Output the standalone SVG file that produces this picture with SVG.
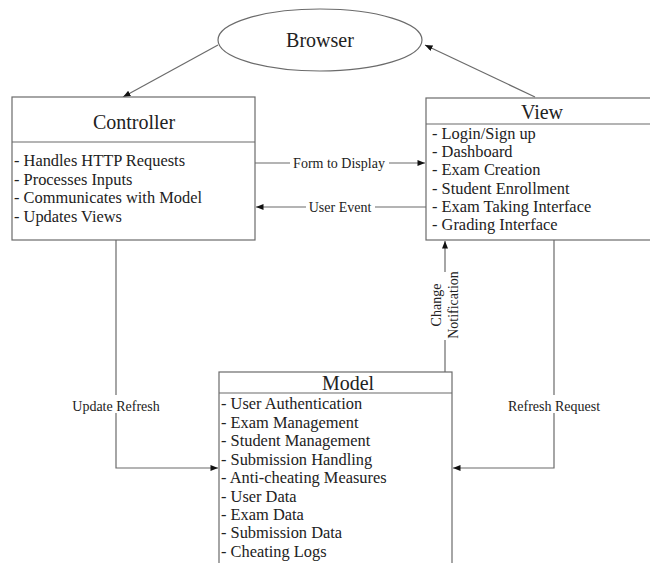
<svg xmlns="http://www.w3.org/2000/svg" width="650" height="563" viewBox="0 0 650 563">
<defs>
<style>
.box{fill:#fff;stroke:#6b6b6b;stroke-width:1.2}
.ln{fill:none;stroke:#6b6b6b;stroke-width:1.2}
.ttl{font-family:"Liberation Serif",serif;font-size:20px;fill:#222;text-anchor:middle}
.itm{font-family:"Liberation Serif",serif;font-size:16.4px;fill:#222}
.lbl{font-family:"Liberation Serif",serif;font-size:14px;fill:#222;text-anchor:middle}
.bg{fill:#fff}
</style>
<marker id="ah" viewBox="0 0 10 8" refX="10" refY="4" markerWidth="8" markerHeight="6" markerUnits="userSpaceOnUse" orient="auto">
<path d="M0,0 L10,4 L0,8 Z" fill="#111"/>
</marker>
</defs>
<rect width="650" height="563" fill="#fff"/>
<g id="connectors">
<path class="ln" d="M218,45 L123,97" marker-end="url(#ah)"/>
<path class="ln" d="M535,97 L425,45" marker-end="url(#ah)"/>
<path class="ln" d="M255,163 H425" marker-end="url(#ah)"/>
<path class="ln" d="M426,207 H256" marker-end="url(#ah)"/>
<path class="ln" d="M445,372 V241" marker-end="url(#ah)"/>
<path class="ln" d="M116,240 V468 H218" marker-end="url(#ah)"/>
<path class="ln" d="M554,240 V468 H453" marker-end="url(#ah)"/>
<rect class="bg" x="290" y="153" width="99" height="18"/>
<text class="lbl" x="339" y="168">Form to Display</text>
<rect class="bg" x="306" y="197" width="69" height="18"/>
<text class="lbl" x="340" y="212">User Event</text>
<rect class="bg" x="68" y="395" width="96" height="18"/>
<text class="lbl" x="116" y="411">Update Refresh</text>
<rect class="bg" x="504" y="395" width="100" height="18"/>
<text class="lbl" x="554" y="411">Refresh Request</text>
<rect class="bg" x="428" y="272" width="34" height="68"/>
<text class="lbl" transform="translate(441,305) rotate(-90)">Change</text>
<text class="lbl" transform="translate(458,305) rotate(-90)">Notification</text>
</g>
<g id="browser">
<ellipse class="box" cx="320" cy="40" rx="102" ry="31"/>
<text class="ttl" x="320" y="47">Browser</text>
</g>
<g id="controller">
<rect class="box" x="12" y="97" width="243" height="143"/>
<line class="ln" x1="12" y1="142" x2="255" y2="142"/>
<text class="ttl" x="134" y="129">Controller</text>
<text class="itm" x="14" y="166">- Handles HTTP Requests</text>
<text class="itm" x="14" y="185">- Processes Inputs</text>
<text class="itm" x="14" y="203">- Communicates with Model</text>
<text class="itm" x="14" y="222">- Updates Views</text>
</g>
<g id="view">
<rect class="box" x="426" y="98" width="240" height="142"/>
<line class="ln" x1="426" y1="124" x2="666" y2="124"/>
<text class="ttl" x="542" y="119">View</text>
<text class="itm" x="432" y="139">- Login/Sign up</text>
<text class="itm" x="432" y="157">- Dashboard</text>
<text class="itm" x="432" y="175">- Exam Creation</text>
<text class="itm" x="432" y="194">- Student Enrollment</text>
<text class="itm" x="432" y="212">- Exam Taking Interface</text>
<text class="itm" x="432" y="230">- Grading Interface</text>
</g>
<g id="model">
<rect class="box" x="219" y="372" width="233" height="220"/>
<line class="ln" x1="219" y1="393" x2="452" y2="393"/>
<text class="ttl" x="348" y="390">Model</text>
<text class="itm" x="221" y="409">- User Authentication</text>
<text class="itm" x="221" y="428">- Exam Management</text>
<text class="itm" x="221" y="446">- Student Management</text>
<text class="itm" x="221" y="465">- Submission Handling</text>
<text class="itm" x="221" y="483">- Anti-cheating Measures</text>
<text class="itm" x="221" y="502">- User Data</text>
<text class="itm" x="221" y="520">- Exam Data</text>
<text class="itm" x="221" y="538">- Submission Data</text>
<text class="itm" x="221" y="557">- Cheating Logs</text>
</g>
</svg>
